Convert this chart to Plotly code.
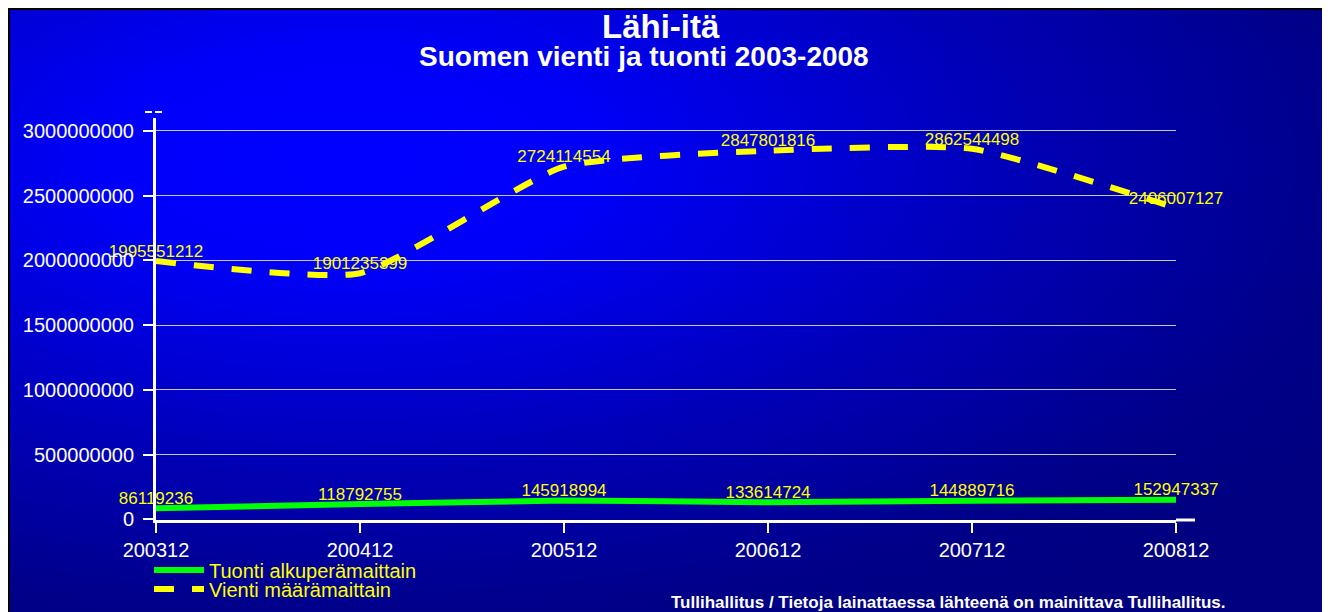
import base64
import plotly.graph_objects as go

# ---- data ----
periods = ["200312", "200412", "200512", "200612", "200712", "200812"]
tuonti = [86119236, 118792755, 145918994, 133614724, 144889716, 152947337]
vienti = [1995551212, 1901235399, 2724114554, 2847801816, 2862544498, 2406007127]
y_tickvals = [0, 500000000, 1000000000, 1500000000, 2000000000, 2500000000, 3000000000]
y_ticktext = ["0", "500000000", "1000000000", "1500000000", "2000000000", "2500000000", "3000000000"]
series_names = ["Tuonti alkuperämaittain", "Vienti määrämaittain"]
title_main = "Lähi-itä"
title_sub = "Suomen vienti ja tuonti 2003-2008"
footer = "Tullihallitus / Tietoja lainattaessa lähteenä on mainittava Tullihallitus."

# page has an 8px body margin; figure fills the rest of the 1330x612 window
OFF = 8
W, H = 1330 - OFF, 612 - OFF
P_L, P_R, P_T, P_B = 156, 1176, 118, 520  # plot area in page pixels
ML, MR, MT, MB = P_L - OFF, (OFF + W) - P_R, P_T - OFF, (OFF + H) - P_B
PW, PH = P_R - P_L, P_B - P_T


def px(x):
    return (x - P_L) / PW


def py(y):
    return (P_B - y) / PH


FONT = "Liberation Sans, Arial, sans-serif"

svg = (
    '<svg xmlns="http://www.w3.org/2000/svg" width="1318" height="603" preserveAspectRatio="none">'
    '<defs><radialGradient id="g" cx="0.26" cy="0.25" r="0.9" fx="0.26" fy="0.25">'
    '<stop offset="0" stop-color="#0000ff"/>'
    '<stop offset="0.2" stop-color="#0000fa"/>'
    '<stop offset="0.55" stop-color="#0000b8"/>'
    '<stop offset="0.85" stop-color="#000088"/>'
    '<stop offset="1" stop-color="#000080"/>'
    '</radialGradient></defs>'
    '<rect width="1318" height="603" fill="url(#g)"/></svg>'
)
bg_src = "data:image/svg+xml;base64," + base64.b64encode(svg.encode()).decode()

fig = go.Figure()
fig.add_trace(go.Scatter(
    x=periods, y=tuonti, name=series_names[0], mode="lines+text",
    text=[str(v) for v in tuonti], textposition="top center",
    textfont=dict(color="#ffff00", size=17, family=FONT),
    line=dict(color="#00ff00", width=6, shape="spline", smoothing=0.5),
    cliponaxis=False, legend="legend",
))
fig.add_trace(go.Scatter(
    x=periods, y=vienti, name=series_names[1], mode="lines+text",
    text=[str(v) for v in vienti], textposition="top center",
    textfont=dict(color="#ffff00", size=17, family=FONT),
    line=dict(color="#ffff00", width=6, shape="spline", smoothing=0.5, dash="20px,18px"),
    cliponaxis=False, legend="legend2",
))

leg_common = dict(
    xref="paper", yref="paper", xanchor="left", yanchor="middle",
    bgcolor="rgba(0,0,0,0)", font=dict(color="#ffff00", size=20, family=FONT),
    itemwidth=50, borderwidth=0,
)

fig.update_layout(
    width=W, height=H,
    margin=dict(l=ML, r=MR, t=MT, b=MB, pad=0, autoexpand=False),
    paper_bgcolor="white",
    plot_bgcolor="rgba(0,0,0,0)",
    font=dict(family=FONT, color="white"),
    showlegend=True,
    legend=dict(x=px(149), y=py(570), **leg_common),
    legend2=dict(x=px(149), y=py(589), **leg_common),
    images=[dict(
        source=bg_src, xref="paper", yref="paper",
        x=px(6), y=py(9), sizex=px(1324) - px(6), sizey=py(9) - py(612),
        xanchor="left", yanchor="top", sizing="stretch", layer="below",
    )],
    shapes=[
        dict(type="line", xref="paper", yref="paper", x0=px(5), x1=px(1325), y0=py(9), y1=py(9),
             line=dict(color="black", width=2)),
        dict(type="line", xref="paper", yref="paper", x0=px(9), x1=px(9), y0=py(8), y1=py(612),
             line=dict(color="black", width=2)),
        dict(type="line", xref="paper", yref="paper", x0=px(1325), x1=px(1325), y0=py(8), y1=py(612),
             line=dict(color="black", width=2)),
        dict(type="line", xref="paper", yref="paper", x0=px(1176), x1=px(1195), y0=py(520), y1=py(520),
             line=dict(color="white", width=3)),
        dict(type="line", xref="paper", yref="paper", x0=px(145), x1=px(162), y0=py(112), y1=py(112),
             line=dict(color="white", width=2, dash="7px,3px")),
    ],
    annotations=[
        dict(text="<b>" + title_main + "</b>", xref="paper", yref="paper", x=px(661), y=py(27),
             xanchor="center", yanchor="middle", showarrow=False,
             font=dict(size=33, color="white", family=FONT)),
        dict(text="<b>" + title_sub + "</b>", xref="paper", yref="paper", x=px(644), y=py(57),
             xanchor="center", yanchor="middle", showarrow=False,
             font=dict(size=28, color="white", family=FONT)),
        dict(text="<b>" + footer + "</b>", xref="paper", yref="paper", x=px(1228), y=py(602),
             xanchor="right", yanchor="middle", showarrow=False,
             font=dict(size=17, color="white", family=FONT)),
    ],
)
fig.update_xaxes(
    type="category", range=[0, 5],
    showline=True, linecolor="white", linewidth=3,
    ticks="outside", ticklen=10, tickwidth=2, tickcolor="white",
    tickfont=dict(size=20, color="white", family=FONT),
    showgrid=False, zeroline=False,
)
fig.update_yaxes(
    range=[-4e6, 3.1e9],
    tickvals=y_tickvals, ticktext=y_ticktext,
    showline=True, linecolor="white", linewidth=3,
    ticks="outside", ticklen=10, tickwidth=2, tickcolor="white",
    tickfont=dict(size=20, color="white", family=FONT),
    ticklabelstandoff=5,
    showgrid=True, gridcolor="#c8c8c8", gridwidth=1, zeroline=False,
)

fig.write_html("out.html")
